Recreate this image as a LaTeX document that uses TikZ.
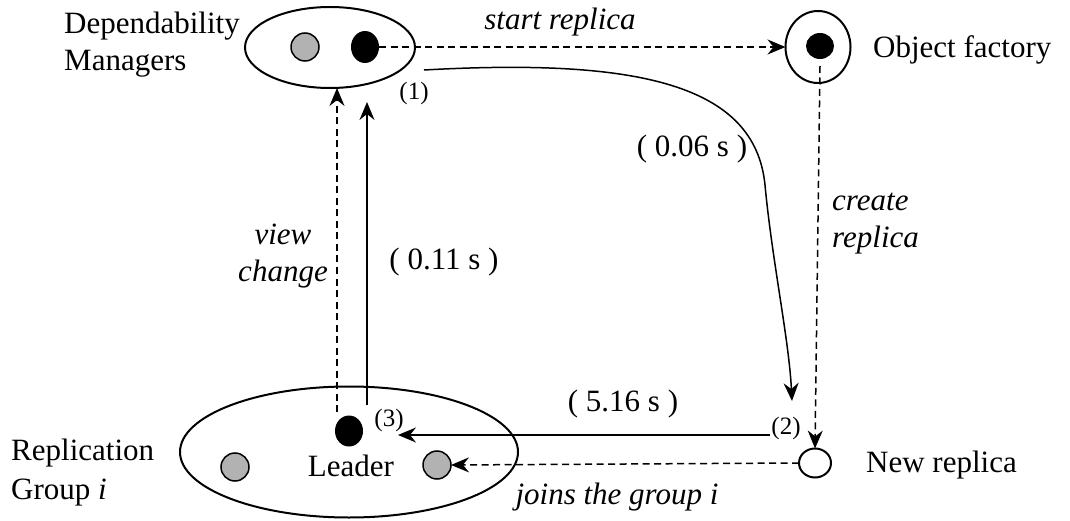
\documentclass[tikz,border=0pt]{standalone}
\usepackage{fontspec}
\setmainfont{Liberation Serif}
\usetikzlibrary{arrows.meta,shapes.geometric}
\begin{document}
\begin{tikzpicture}[x=1pt,y=-1pt,
  lbl/.style={font=\fontsize{31}{37}\selectfont, inner sep=0pt},
  itl/.style={font=\fontsize{31}{37}\selectfont\itshape, inner sep=0pt},
  sm/.style={font=\fontsize{25}{28}\selectfont, inner sep=0pt},
  hull/.style={ellipse, draw, line width=2pt, inner sep=0pt, outer sep=0pt},
  member/.style={circle, draw, line width=1.5pt, fill=gray!60, minimum size=28pt, inner sep=0pt, outer sep=0pt},
  active/.style={ellipse, fill=black, inner sep=0pt, outer sep=0pt},
  msg/.style={line width=1.5pt, -{Stealth[length=18pt,width=15pt,inset=6pt]}},
  dashmsg/.style={msg, dash pattern=on 7pt off 4.5pt}]
\useasboundingbox (0,0) rectangle (1070,521);

% Dependability managers
\node[hull, minimum width=170pt, minimum height=81pt] (dm) at (330,47.5) {};
\node[member] (dmA) at (305,47) {};
\node[active, minimum width=28pt, minimum height=32pt] (dmB) at (365,47) {};
\node[lbl, anchor=west, align=left] (tdm) at (64,45) {Dependability\\Managers};

% Object factory
\node[hull, minimum width=65pt, minimum height=72pt] (of) at (818,47) {};
\node[active, minimum width=28pt, minimum height=26pt] (ofc) at (820,46) {};
\node[lbl, anchor=west] (tof) at (873,50) {Object factory};

% New replica
\node[hull, minimum width=32pt, minimum height=29pt] (nr) at (815,463) {};
\node[lbl, anchor=west] (tnr) at (866,465) {New replica};

% Replication group
\node[hull, minimum width=338pt, minimum height=131pt] (grp) at (349,452) {};
\node[active, minimum width=28pt, minimum height=31pt] (lead) at (349,431) {};
\node[member] (g1) at (235,467) {};
\node[member] (g2) at (437,465) {};
\node[lbl] (tlead) at (351,466) {Leader};
\node[lbl, anchor=west, align=left, font=\fontsize{31}{39}\selectfont] (tgrp) at (11,473) {Replication\\Group \textit{i}};

% free ends of the connectors
\coordinate (c1s) at (424,70);
\coordinate (c1e) at (792,401);
\coordinate (c2s) at (770,435);
\coordinate (c2e) at (398,435);
\coordinate (c3s) at (367,405);
\coordinate (c3e) at (367,102);
\coordinate (c4s) at (337,412);

% connectors
\draw[dashmsg] (dmB.east) -- (of.west);
\draw[dashmsg] (ofc.south) ++(0,7) -- (nr.north);
\draw[msg] (c1s) .. controls (640,58) and (755,85) .. (765,185)
                 .. controls (772,260) and (789,340) .. (c1e);
\draw[msg] (c2s) -- (c2e);
\draw[dashmsg] (nr.west) -- (g2.east);
\draw[msg] (c3s) -- (c3e);
\draw[dashmsg] (c4s) -- (c4s |- dm.south);

% labels
\node[itl] (tsr) at (560,22) {start replica};
\node[lbl] (t006) at (692,149) {( 0.06 s )};
\node[itl, anchor=west, align=left] (tcr) at (832,224) {create\\replica};
\node[itl, align=center] (tvc) at (283,256) {view\\change};
\node[lbl] (t011) at (444,262) {( 0.11 s )};
\node[lbl] (t516) at (623,404) {( 5.16 s )};
\node[itl] (tjg) at (617,497) {joins the group i};
\node[sm] (n1) at (414,93) {(1)};
\node[sm] (n2) at (786,428) {(2)};
\node[sm] (n3) at (389,420) {(3)};
\end{tikzpicture}
\end{document}
